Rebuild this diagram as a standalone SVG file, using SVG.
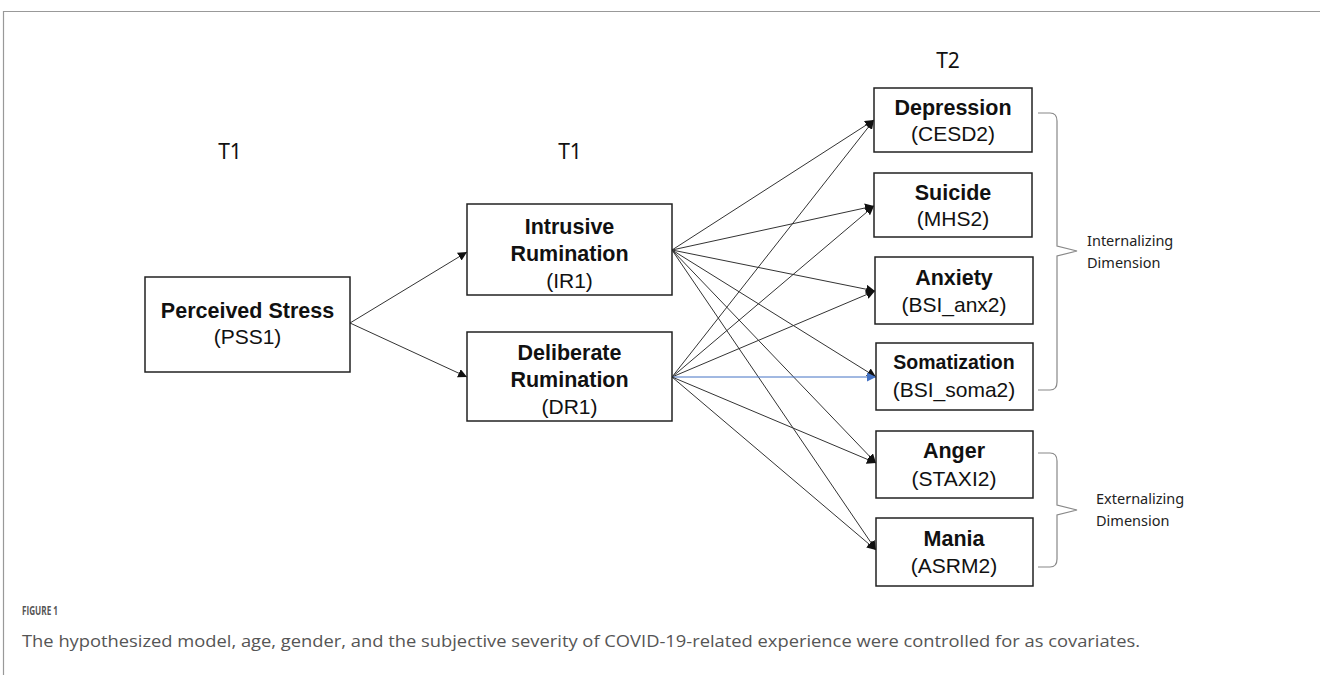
<svg xmlns="http://www.w3.org/2000/svg" width="1320" height="675" viewBox="0 0 1320 675">
<defs>
<style>
.box{fill:#fff;stroke:#222;stroke-width:1.5}
.b{font-family:"Liberation Sans",Arial,sans-serif;font-weight:bold;font-size:21.5px;fill:#111;text-anchor:middle}
.n{font-family:"Liberation Sans",Arial,sans-serif;font-size:21px;fill:#111;text-anchor:middle}
.lbl{font-family:"Noto Sans","Open Sans","DejaVu Sans",sans-serif;font-size:21px;fill:#111;text-anchor:middle}
.dim{font-family:"Noto Sans","Open Sans","DejaVu Sans",sans-serif;font-size:14.5px;fill:#222}
.edge{stroke:#333;stroke-width:1;fill:none;marker-end:url(#ah)}
.blue{stroke:#4472C4;stroke-width:1;fill:none;marker-end:url(#ahb)}
.brace{stroke:#888;stroke-width:1.2;fill:none}
.cap{font-family:"Open Sans","Noto Sans",sans-serif;fill:#555}
</style>
<marker id="ah" viewBox="0 0 10 10" refX="10" refY="5" markerWidth="9" markerHeight="9" markerUnits="userSpaceOnUse" orient="auto"><path d="M0,0 L10,5 L0,10 z" fill="#111"/></marker>
<marker id="ahb" viewBox="0 0 10 10" refX="10" refY="5" markerWidth="9" markerHeight="9" markerUnits="userSpaceOnUse" orient="auto"><path d="M0,0 L10,5 L0,10 z" fill="#4472C4"/></marker>
</defs>
<rect width="1320" height="675" fill="#fff"/>
<path d="M3.5,675 L3.5,11.5 L1320,11.5" stroke="#999" stroke-width="1.2" fill="none"/>

<text class="lbl" x="230" y="159">T1</text>
<text class="lbl" x="570" y="159">T1</text>
<text class="lbl" x="948" y="68">T2</text>

<g id="connectors">
<path class="edge" d="M350,323 L467,252"/>
<path class="edge" d="M350,323 L467,377"/>
<path class="edge" d="M672,250 L874,120"/>
<path class="edge" d="M672,250 L874,206"/>
<path class="edge" d="M672,250 L875,291"/>
<path class="edge" d="M672,250 L876,377"/>
<path class="edge" d="M672,250 L876,463"/>
<path class="edge" d="M672,250 L876,550"/>
<path class="edge" d="M672,377 L874,120"/>
<path class="edge" d="M672,377 L874,206"/>
<path class="edge" d="M672,377 L875,291"/>
<path class="blue" d="M672,377 L876,377"/>
<path class="edge" d="M672,377 L876,463"/>
<path class="edge" d="M672,377 L876,550"/>
</g>

<g id="pss"><rect class="box" x="145" y="277" width="205" height="95"/>
<text class="b" x="247.5" y="318">Perceived Stress</text><text class="n" x="247.5" y="344">(PSS1)</text></g>
<g id="ir"><rect class="box" x="467" y="204" width="205" height="91"/>
<text class="b" x="569.5" y="234">Intrusive</text><text class="b" x="569.5" y="261">Rumination</text><text class="n" x="569.5" y="288">(IR1)</text></g>
<g id="dr"><rect class="box" x="467" y="332" width="205" height="89"/>
<text class="b" x="569.5" y="360">Deliberate</text><text class="b" x="569.5" y="387">Rumination</text><text class="n" x="569.5" y="414">(DR1)</text></g>

<g id="dep"><rect class="box" x="874" y="88" width="158" height="64"/>
<text class="b" x="953" y="115">Depression</text><text class="n" x="953" y="141">(CESD2)</text></g>
<g id="sui"><rect class="box" x="874" y="173" width="158" height="64"/>
<text class="b" x="953" y="200">Suicide</text><text class="n" x="953" y="226">(MHS2)</text></g>
<g id="anx"><rect class="box" x="875" y="257" width="158" height="67"/>
<text class="b" x="954" y="285">Anxiety</text><text class="n" x="954" y="312">(BSI_anx2)</text></g>
<g id="som"><rect class="box" x="876" y="343" width="157" height="67"/>
<text class="b" x="954" y="369" style="font-size:19.5px">Somatization</text><text class="n" x="954" y="397">(BSI_soma2)</text></g>
<g id="ang"><rect class="box" x="876" y="431" width="157" height="67"/>
<text class="b" x="954" y="458">Anger</text><text class="n" x="954" y="486">(STAXI2)</text></g>
<g id="man"><rect class="box" x="876" y="518" width="157" height="68"/>
<text class="b" x="954" y="546">Mania</text><text class="n" x="954" y="573">(ASRM2)</text></g>

<g id="internal">
<path class="brace" d="M1038,113 L1050,113 Q1057,113 1057,121 L1057,246 L1077,251 L1057,256 L1057,382 Q1057,390 1050,390 L1038,390"/>
<text class="dim" x="1087" y="246">Internalizing</text><text class="dim" x="1087" y="268">Dimension</text>
</g>
<g id="external">
<path class="brace" d="M1038,453 L1050,453 Q1057,453 1057,461 L1057,505 L1077,510 L1057,515 L1057,559 Q1057,567 1050,567 L1038,567"/>
<text class="dim" x="1096" y="504">Externalizing</text><text class="dim" x="1096" y="526">Dimension</text>
</g>

<text class="cap" x="22" y="615" style="font-size:12px;font-weight:bold" textLength="36" lengthAdjust="spacingAndGlyphs">FIGURE 1</text>
<text class="cap" x="22" y="647" style="font-size:16px" textLength="1118" lengthAdjust="spacingAndGlyphs">The hypothesized model, age, gender, and the subjective severity of COVID-19-related experience were controlled for as covariates.</text>
</svg>
